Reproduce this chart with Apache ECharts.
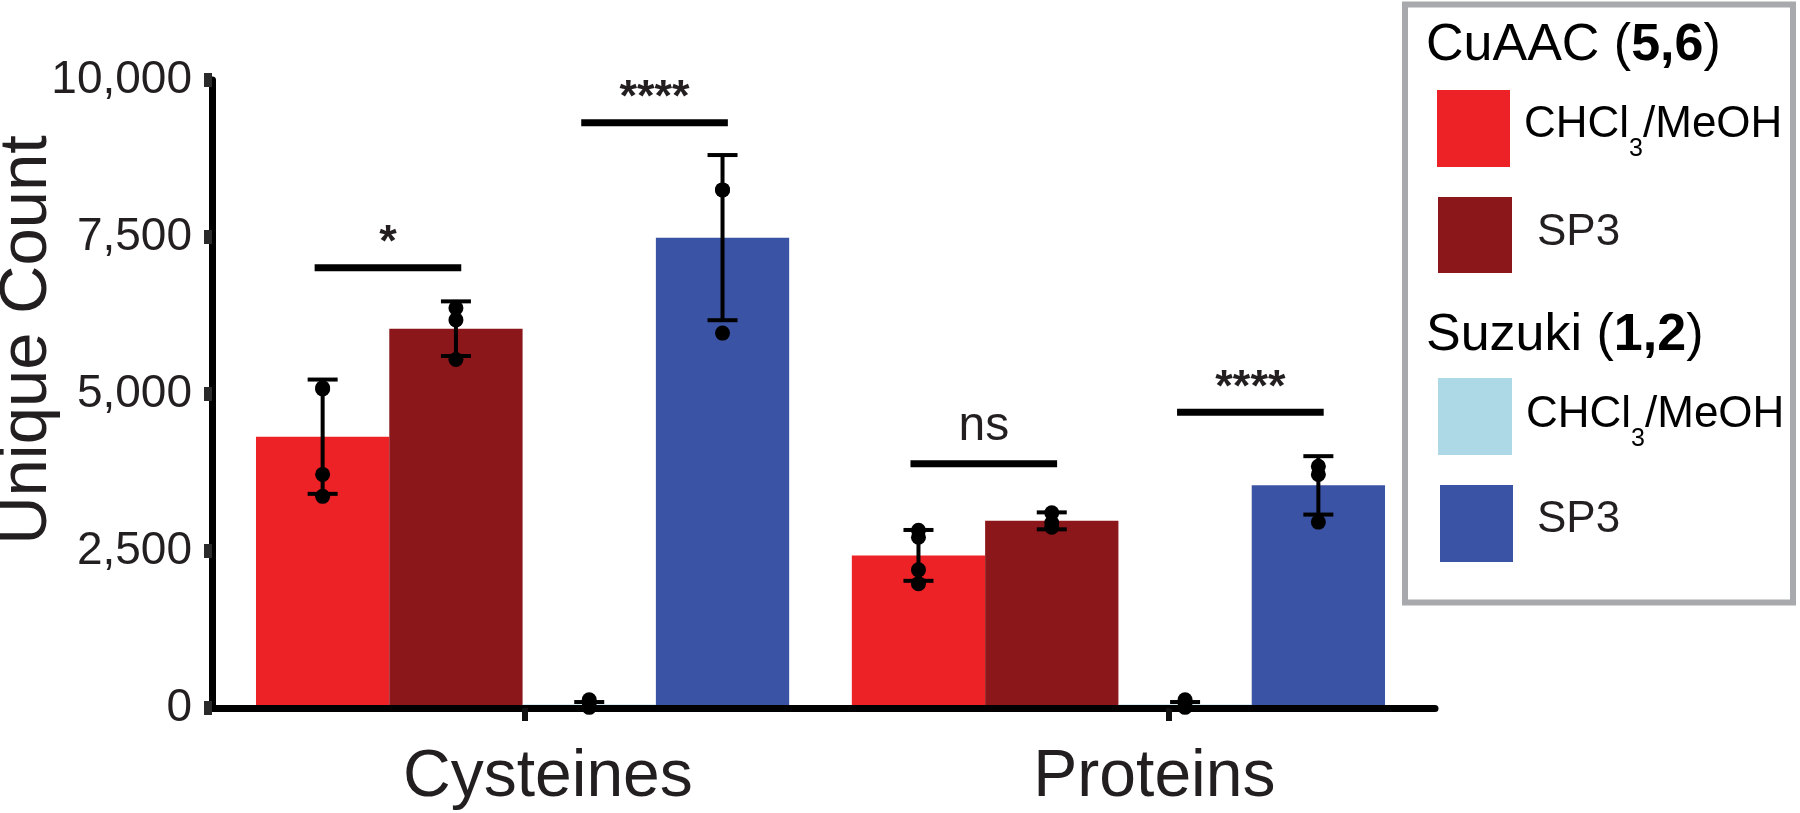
<!DOCTYPE html>
<html>
<head>
<meta charset="utf-8">
<script src="https://cdn.jsdelivr.net/npm/echarts@6/dist/echarts.min.js"></script>
<style>
html,body{margin:0;padding:0;background:#fff;}
#chart{width:1800px;height:813px;}
</style>
</head>
<body>
<div id="chart"></div>
<script>
// ---------------- DATA ----------------
const categories = ['Cysteines', 'Proteins'];
const seriesNames = ['CuAAC (5,6) CHCl3/MeOH', 'CuAAC (5,6) SP3', 'Suzuki (1,2) CHCl3/MeOH', 'Suzuki (1,2) SP3'];
const yTicks = [0, 2500, 5000, 7500, 10000];

const cuaacChcl3Mean = [4320, 2430];
const cuaacChcl3Sd = [910, 405];
const cuaacChcl3Points = [[5100, 5080, 3720, 3370], [2830, 2720, 2200, 1980]];

const cuaacSp3Mean = [6040, 2980];
const cuaacSp3Sd = [435, 135];
const cuaacSp3Points = [[6370, 6180, 5550], [3110, 2950, 2880]];

const suzukiChcl3Mean = [55, 55];
const suzukiChcl3Sd = [40, 40];
const suzukiChcl3Points = [[130, 25, 10], [130, 25, 10]];

const suzukiSp3Mean = [7490, 3545];
const suzukiSp3Sd = [1315, 465];
const suzukiSp3Points = [[8250, 8250, 5970], [3850, 3720, 2960]];

// significance annotations
const sigLabels = ['*', '****', 'ns', '****'];
const sigCategory = [0, 0, 1, 1];
const sigFrom = [0, 2, 0, 2];
const sigTo = [1, 3, 1, 3];
const sigLevel = [7010, 9320, 3890, 4710];

// ---------------- LAYOUT / STYLE ----------------
const FONT = "'Liberation Sans', Arial, Helvetica, sans-serif";
const INK = '#231f20';
const COLORS = ['#ED2227', '#8B171A', '#ADD8E6', '#3A53A4'];
const X_RANGE = 9.175;            // axis length in bar-width units
const GROUP_OFFSET = [0.33, 4.80]; // group start (bar-width units)
const TICK_AT = [2.35, 7.18];
const LABEL_AT = [2.52, 7.07];

const means = [cuaacChcl3Mean, cuaacSp3Mean, suzukiChcl3Mean, suzukiSp3Mean];
const sds = [cuaacChcl3Sd, cuaacSp3Sd, suzukiChcl3Sd, suzukiSp3Sd];
const points = [cuaacChcl3Points, cuaacSp3Points, suzukiChcl3Points, suzukiSp3Points];

function barX(ci, si) { return GROUP_OFFSET[ci] + si + 0.5; }

const series = [];

// bars
seriesNames.forEach((name, si) => {
  series.push({
    name: name,
    type: 'custom',
    z: 1,
    itemStyle: { color: COLORS[si] },
    data: categories.map((c, ci) => [barX(ci, si), means[si][ci]]),
    renderItem: function (params, api) {
      const top = api.coord([api.value(0), api.value(1)]);
      const base = api.coord([api.value(0), 0]);
      const w = api.size([1, 0])[0];
      return {
        type: 'rect',
        shape: { x: top[0] - w / 2, y: top[1], width: w, height: base[1] - top[1] },
        style: { fill: COLORS[si] }
      };
    }
  });
});

// error bars (mean ± SD)
const errData = [];
seriesNames.forEach((name, si) => {
  categories.forEach((c, ci) => {
    errData.push([barX(ci, si), means[si][ci], sds[si][ci]]);
  });
});
series.push({
  type: 'custom',
  z: 5,
  silent: true,
  data: errData,
  renderItem: function (params, api) {
    const x = api.value(0), m = api.value(1), s = api.value(2);
    const hi = api.coord([x, m + s]);
    const lo = api.coord([x, Math.max(0, m - s)]);
    const half = 15;
    const st = { stroke: '#000', lineWidth: 4 };
    return {
      type: 'group',
      children: [
        { type: 'line', shape: { x1: hi[0], y1: hi[1], x2: lo[0], y2: lo[1] }, style: st },
        { type: 'line', shape: { x1: hi[0] - half, y1: hi[1], x2: hi[0] + half, y2: hi[1] }, style: st },
        { type: 'line', shape: { x1: lo[0] - half, y1: lo[1], x2: lo[0] + half, y2: lo[1] }, style: st }
      ]
    };
  }
});

// replicate points
const ptData = [];
seriesNames.forEach((name, si) => {
  categories.forEach((c, ci) => {
    points[si][ci].forEach(v => ptData.push([barX(ci, si), v]));
  });
});
series.push({
  type: 'scatter',
  z: 6,
  silent: true,
  symbol: 'circle',
  symbolSize: 15,
  itemStyle: { color: '#000', opacity: 1 },
  data: ptData
});

// significance bars + labels
const sigData = sigLabels.map((lab, i) => [
  barX(sigCategory[i], sigFrom[i]) - 0.06,
  barX(sigCategory[i], sigTo[i]) + 0.04,
  sigLevel[i],
  i
]);
series.push({
  type: 'custom',
  z: 6,
  silent: true,
  data: sigData,
  renderItem: function (params, api) {
    const a = api.coord([api.value(0), api.value(2)]);
    const b = api.coord([api.value(1), api.value(2)]);
    const lab = sigLabels[api.value(3)];
    const isNs = lab === 'ns';
    return {
      type: 'group',
      children: [
        { type: 'line', shape: { x1: a[0], y1: a[1], x2: b[0], y2: b[1] }, style: { stroke: '#000', lineWidth: 7 } },
        {
          type: 'text',
          x: (a[0] + b[0]) / 2,
          y: a[1] - (isNs ? 37 : 24),
          style: {
            text: lab,
            fontFamily: FONT,
            fontSize: isNs ? 48 : 45,
            fontWeight: isNs ? 'normal' : 'bold',
            fill: INK,
            align: 'center',
            verticalAlign: 'middle'
          }
        }
      ]
    };
  }
});

// ---------------- LEGEND (graphic) ----------------
const itemRich = {
  n: { fontSize: 44, fontFamily: FONT, color: INK },
  s: { fontSize: 25, fontFamily: FONT, color: INK, lineHeight: 74, verticalAlign: 'bottom' }
};
const headRich = {
  h: { fontSize: 52, fontFamily: FONT, color: '#000' },
  b: { fontSize: 52, fontFamily: FONT, color: '#000', fontWeight: 'bold' }
};
const graphic = [
  { type: 'rect', shape: { x: 1405, y: 4.5, width: 388, height: 598 }, style: { fill: '#fff', stroke: '#a7a9ac', lineWidth: 6 }, z: 0 },
  { type: 'text', x: 1426, y: 46, style: { text: '{h|CuAAC (}{b|5,6}{h|)}', rich: headRich, align: 'left', verticalAlign: 'middle' } },
  { type: 'rect', shape: { x: 1437, y: 90, width: 73, height: 77 }, style: { fill: COLORS[0] } },
  { type: 'text', x: 1524, y: 125, style: { text: '{n|CHCl}{s|3}{n|/MeOH}', rich: itemRich, align: 'left', verticalAlign: 'middle' } },
  { type: 'rect', shape: { x: 1438, y: 197, width: 74, height: 76 }, style: { fill: COLORS[1] } },
  { type: 'text', x: 1537, y: 233, style: { text: 'SP3', fontSize: 44, fontFamily: FONT, fill: INK, align: 'left', verticalAlign: 'middle' } },
  { type: 'text', x: 1426, y: 336, style: { text: '{h|Suzuki (}{b|1,2}{h|)}', rich: headRich, align: 'left', verticalAlign: 'middle' } },
  { type: 'rect', shape: { x: 1438, y: 378, width: 74, height: 77 }, style: { fill: COLORS[2] } },
  { type: 'text', x: 1526, y: 415, style: { text: '{n|CHCl}{s|3}{n|/MeOH}', rich: itemRich, align: 'left', verticalAlign: 'middle' } },
  { type: 'rect', shape: { x: 1440, y: 485, width: 73, height: 77 }, style: { fill: COLORS[3] } },
  { type: 'text', x: 1537, y: 520, style: { text: 'SP3', fontSize: 44, fontFamily: FONT, fill: INK, align: 'left', verticalAlign: 'middle' } },
  // y-axis title
  { type: 'text', x: 28, y: 340, rotation: Math.PI / 2, style: { text: 'Unique Count', fontSize: 67, fontFamily: FONT, fill: INK, align: 'center', verticalAlign: 'middle' } }
];

// ---------------- CHART ----------------
const chart = echarts.init(document.getElementById('chart'), null, { renderer: 'canvas' });
chart.setOption({
  animation: false,
  backgroundColor: '#fff',
  textStyle: { fontFamily: FONT },
  grid: { left: 212, right: 365, top: 80, bottom: 105, containLabel: false, outerBoundsMode: 'none' },
  xAxis: {
    type: 'value',
    min: 0,
    max: X_RANGE,
    z: 3,
    axisLine: { show: true, onZero: false, lineStyle: { color: '#000', width: 7 } },
    axisTick: { show: true, customValues: TICK_AT, length: 13, lineStyle: { color: '#111', width: 6 } },
    axisLabel: {
      customValues: LABEL_AT,
      formatter: function (v) {
        let best = 0;
        LABEL_AT.forEach((p, i) => { if (Math.abs(p - v) < Math.abs(LABEL_AT[best] - v)) best = i; });
        return categories[best];
      },
      fontSize: 66,
      color: INK,
      margin: 37,
      fontFamily: FONT
    },
    splitLine: { show: false }
  },
  yAxis: {
    type: 'value',
    min: yTicks[0],
    max: yTicks[yTicks.length - 1],
    interval: 2500,
    z: 3,
    axisLine: { show: true, lineStyle: { color: '#000', width: 7 } },
    axisTick: { show: true, length: 8, lineStyle: { color: '#2a2a2a', width: 14 } },
    axisLabel: {
      fontSize: 46,
      color: INK,
      margin: 20,
      fontFamily: FONT,
      formatter: function (v) { return v.toLocaleString('en-US'); }
    },
    splitLine: { show: false }
  },
  graphic: graphic,
  series: series
});
</script>
</body>
</html>
